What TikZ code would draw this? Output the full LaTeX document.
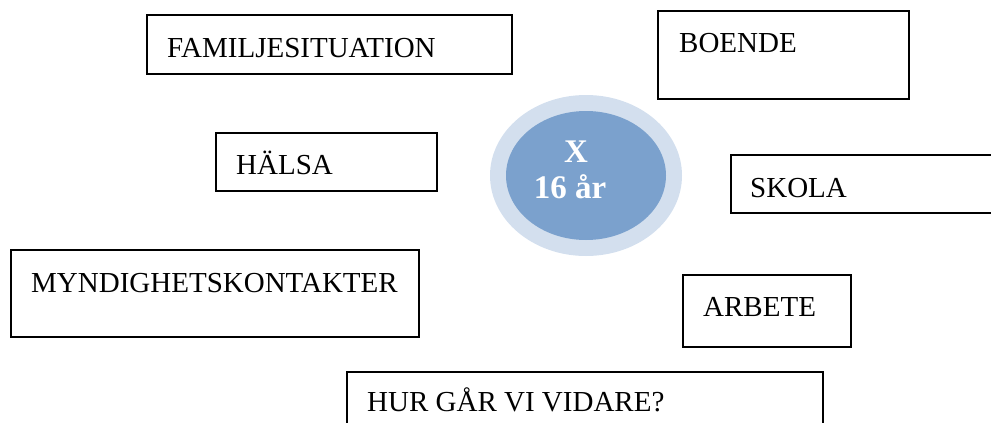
\documentclass[tikz,border=0pt]{standalone}
\usepackage{fontspec}
\setmainfont{Liberation Serif}
\usetikzlibrary{shapes.geometric}
\definecolor{outerblue}{RGB}{211,223,238}
\definecolor{innerblue}{RGB}{123,161,205}
\begin{document}
\begin{tikzpicture}[x=1pt,y=-1pt,
  boxrect/.style={draw=black,line width=1.6pt,fill=white,inner sep=0pt,anchor=north west},
  boxtext/.style={anchor=base west,inner sep=0pt,font=\fontsize{29}{34}\selectfont},
  agetext/.style={anchor=base,inner sep=0pt,text=white,font=\fontsize{33}{36}\selectfont\bfseries}]
\useasboundingbox (0,0) rectangle (991,423);
% boxes
\node[boxrect,minimum width=365,minimum height=59] (famb) at (146,14) {};
\node[boxtext] (famt) at (167,57) {FAMILJESITUATION};
\node[boxrect,minimum width=251,minimum height=88] (boeb) at (657,10) {};
\node[boxtext] (boet) at (679,52) {BOENDE};
\node[boxrect,minimum width=221,minimum height=58] (halb) at (215,132) {};
\node[boxtext] (halt) at (236,174) {HÄLSA};
\node[boxrect,minimum width=280,minimum height=58] (skob) at (730,154) {};
\node[boxtext] (skot) at (750,197) {SKOLA};
\node[boxrect,minimum width=408,minimum height=87] (mynb) at (10,249) {};
\node[boxtext] (mynt) at (31,292) {MYNDIGHETSKONTAKTER};
\node[boxrect,minimum width=168,minimum height=72] (arbb) at (682,274) {};
\node[boxtext] (arbt) at (703,316) {ARBETE};
\node[boxrect,minimum width=476,minimum height=70] (hurb) at (346,371) {};
\node[boxtext] (hurt) at (367,411) {HUR GÅR VI VIDARE?};
% centre
\node[ellipse,fill=outerblue,draw=none,inner sep=0pt,minimum width=192,minimum height=161] (outer) at (586,175.5) {};
\node[ellipse,fill=innerblue,draw=none,inner sep=0pt,minimum width=160,minimum height=129] (inner) at (586,175.5) {};
\node[agetext] (agex) at (576,162) {X};
\node[agetext] (ageyr) at (570,198) {16 år};
\end{tikzpicture}
\end{document}
